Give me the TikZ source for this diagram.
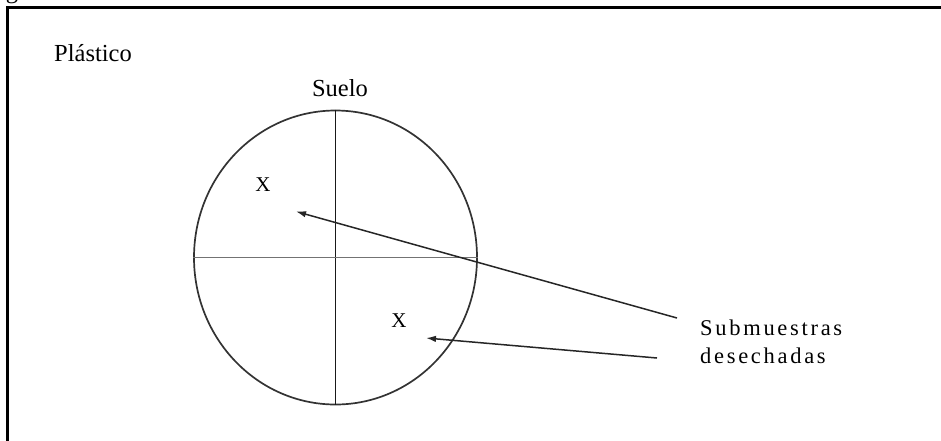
\documentclass[tikz,border=0pt]{standalone}
\usepackage{fontspec}
\setmainfont{Liberation Serif}
\usetikzlibrary{arrows.meta,shapes.geometric}
\begin{document}
\begin{tikzpicture}[x=1pt,y=-1pt,
  lbl/.style={font=\fontsize{24.5}{28}\selectfont, inner sep=0pt},
  spaced/.style={font=\fontsize{22.5}{28}\selectfont\addfontfeatures{LetterSpace=12}, inner sep=0pt},
  ptr/.style={line width=1.5pt, draw=black!85, -{Latex[length=10pt,width=6.5pt]}},
  divider/.style={line width=1.5pt}]
\useasboundingbox (0,0) rectangle (941,440);
\clip (0,0) rectangle (941,440);
\node[lbl, anchor=base] (cap) at (12,-2) {g};
\draw[line width=2.2pt] (7.5,7.5) rectangle (990,490);
\node[lbl, anchor=base west] (plastico) at (54,61) {Plástico};
\node[lbl, anchor=base] (suelo) at (340,96) {Suelo};
\node[draw=black!80, line width=1.7pt, ellipse, minimum width=283pt, minimum height=294pt, inner sep=0pt] (soil) at (335.5,257.5) {};
\draw[divider, draw=black!90] (soil.north) -- (soil.south);
\draw[divider, draw=black!55, line width=1.9pt] (soil.west) -- (soil.east);
\node[lbl, font=\fontsize{21}{25}\selectfont] (x1) at (263,185) {X};
\node[lbl, font=\fontsize{21}{25}\selectfont] (x2) at (399,321) {X};
\node[spaced, anchor=base west] (sub) at (700,335) {Submuestras};
\node[spaced, anchor=base west] (des) at (700,363) {desechadas};
\coordinate (t1) at (677,318);
\coordinate (h1) at (296,211.5);
\coordinate (t2) at (657,358);
\coordinate (h2) at (426,338);
\draw[ptr] (t1) -- (h1);
\draw[ptr] (t2) -- (h2);
\end{tikzpicture}
\end{document}
